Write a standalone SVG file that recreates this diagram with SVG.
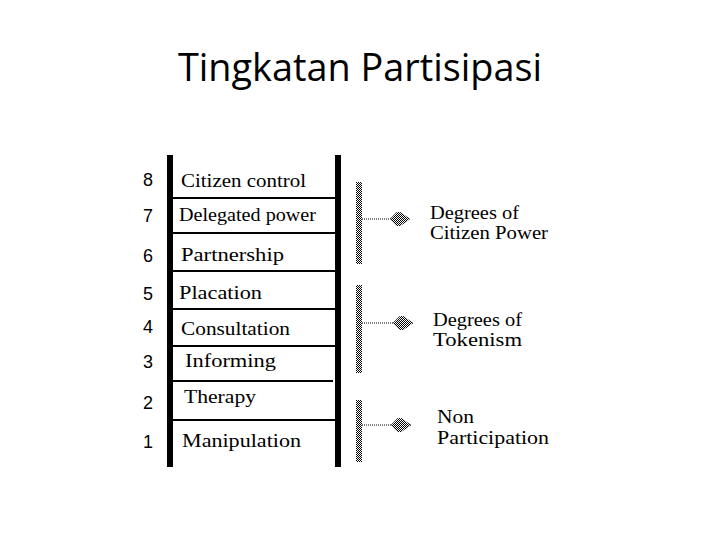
<svg xmlns="http://www.w3.org/2000/svg" width="720" height="540" viewBox="0 0 720 540">
<defs>
<pattern id="chk" width="2" height="2" patternUnits="userSpaceOnUse">
<rect width="2" height="2" fill="#ffffff"/>
<rect width="1" height="1" fill="#000"/>
<rect x="1" y="1" width="1" height="1" fill="#000"/>
</pattern>
<marker id="ah" markerWidth="21" markerHeight="14" refX="20" refY="7" orient="auto" markerUnits="userSpaceOnUse">
<polygon points="0,7 4,3 7,0 10,0 20,7 10,14 7,14 4,11" fill="#333"/>
<polygon points="0,7 4,3 7,0 10,0 20,7 10,14 7,14 4,11" fill="url(#chk)"/>
</marker>
</defs>
<style>
.t{font-family:"Liberation Serif","DejaVu Serif",serif;font-size:19px;fill:#000}
.n{font-family:"Liberation Sans","DejaVu Sans",sans-serif;font-size:18px;fill:#000;text-anchor:middle}
.bar{fill:#000}
.ln{stroke:#000;stroke-width:2}
.cb{fill:url(#chk)}
.dl{stroke:#000;stroke-width:1;stroke-dasharray:1 1}
</style>
<text x="360" y="81" text-anchor="middle" font-family="Open Sans, Liberation Sans, sans-serif" font-size="38" textLength="364" lengthAdjust="spacingAndGlyphs" fill="#000">Tingkatan Partisipasi</text>
<g id="ladder">
<rect class="bar" x="167" y="155" width="6" height="312"/>
<rect class="bar" x="335" y="155" width="6" height="312"/>
<line class="ln" x1="173" y1="198" x2="335" y2="198"/>
<line class="ln" x1="173" y1="233" x2="335" y2="233"/>
<line class="ln" x1="173" y1="271" x2="335" y2="271"/>
<line class="ln" x1="173" y1="309" x2="335" y2="309"/>
<line class="ln" x1="173" y1="346" x2="335" y2="346"/>
<line class="ln" x1="173" y1="381" x2="333" y2="381"/>
<line class="ln" x1="173" y1="420" x2="335" y2="420"/>
</g>
<g id="rung8"><text class="n" x="148" y="186" textLength="10" lengthAdjust="spacingAndGlyphs">8</text><text class="t" x="181" y="187" textLength="125" lengthAdjust="spacingAndGlyphs">Citizen control</text></g>
<g id="rung7"><text class="n" x="148" y="222" textLength="10" lengthAdjust="spacingAndGlyphs">7</text><text class="t" x="179" y="221" textLength="137" lengthAdjust="spacingAndGlyphs">Delegated power</text></g>
<g id="rung6"><text class="n" x="148" y="262" textLength="10" lengthAdjust="spacingAndGlyphs">6</text><text class="t" x="181" y="261" textLength="103" lengthAdjust="spacingAndGlyphs">Partnership</text></g>
<g id="rung5"><text class="n" x="148" y="300" textLength="10" lengthAdjust="spacingAndGlyphs">5</text><text class="t" x="179" y="299" textLength="83" lengthAdjust="spacingAndGlyphs">Placation</text></g>
<g id="rung4"><text class="n" x="148" y="333" textLength="10" lengthAdjust="spacingAndGlyphs">4</text><text class="t" x="181" y="335" textLength="109" lengthAdjust="spacingAndGlyphs">Consultation</text></g>
<g id="rung3"><text class="n" x="148" y="368" textLength="10" lengthAdjust="spacingAndGlyphs">3</text><text class="t" x="185" y="367" textLength="91" lengthAdjust="spacingAndGlyphs">Informing</text></g>
<g id="rung2"><text class="n" x="148" y="409" textLength="10" lengthAdjust="spacingAndGlyphs">2</text><text class="t" x="184" y="403" textLength="72" lengthAdjust="spacingAndGlyphs">Therapy</text></g>
<g id="rung1"><text class="n" x="148" y="448" textLength="10" lengthAdjust="spacingAndGlyphs">1</text><text class="t" x="182" y="447" textLength="119" lengthAdjust="spacingAndGlyphs">Manipulation</text></g>
<g id="connectors">
<rect class="cb" x="356" y="182" width="6" height="82"/>
<line class="dl" x1="362" y1="219" x2="410" y2="219" marker-end="url(#ah)"/>
<rect class="cb" x="356" y="285" width="6" height="88"/>
<line class="dl" x1="362" y1="323" x2="413" y2="323" marker-end="url(#ah)"/>
<rect class="cb" x="356" y="400" width="6" height="62"/>
<line class="dl" x1="362" y1="425" x2="411" y2="425" marker-end="url(#ah)"/>
</g>
<g id="citizen-power"><text class="t" x="430" y="219" textLength="89" lengthAdjust="spacingAndGlyphs">Degrees of</text><text class="t" x="430" y="239" textLength="118" lengthAdjust="spacingAndGlyphs">Citizen Power</text></g>
<g id="tokenism"><text class="t" x="433" y="326" textLength="89" lengthAdjust="spacingAndGlyphs">Degrees of</text><text class="t" x="433" y="346" textLength="89" lengthAdjust="spacingAndGlyphs">Tokenism</text></g>
<g id="non-participation"><text class="t" x="437" y="423" textLength="37" lengthAdjust="spacingAndGlyphs">Non</text><text class="t" x="437" y="444" textLength="112" lengthAdjust="spacingAndGlyphs">Participation</text></g>
</svg>
